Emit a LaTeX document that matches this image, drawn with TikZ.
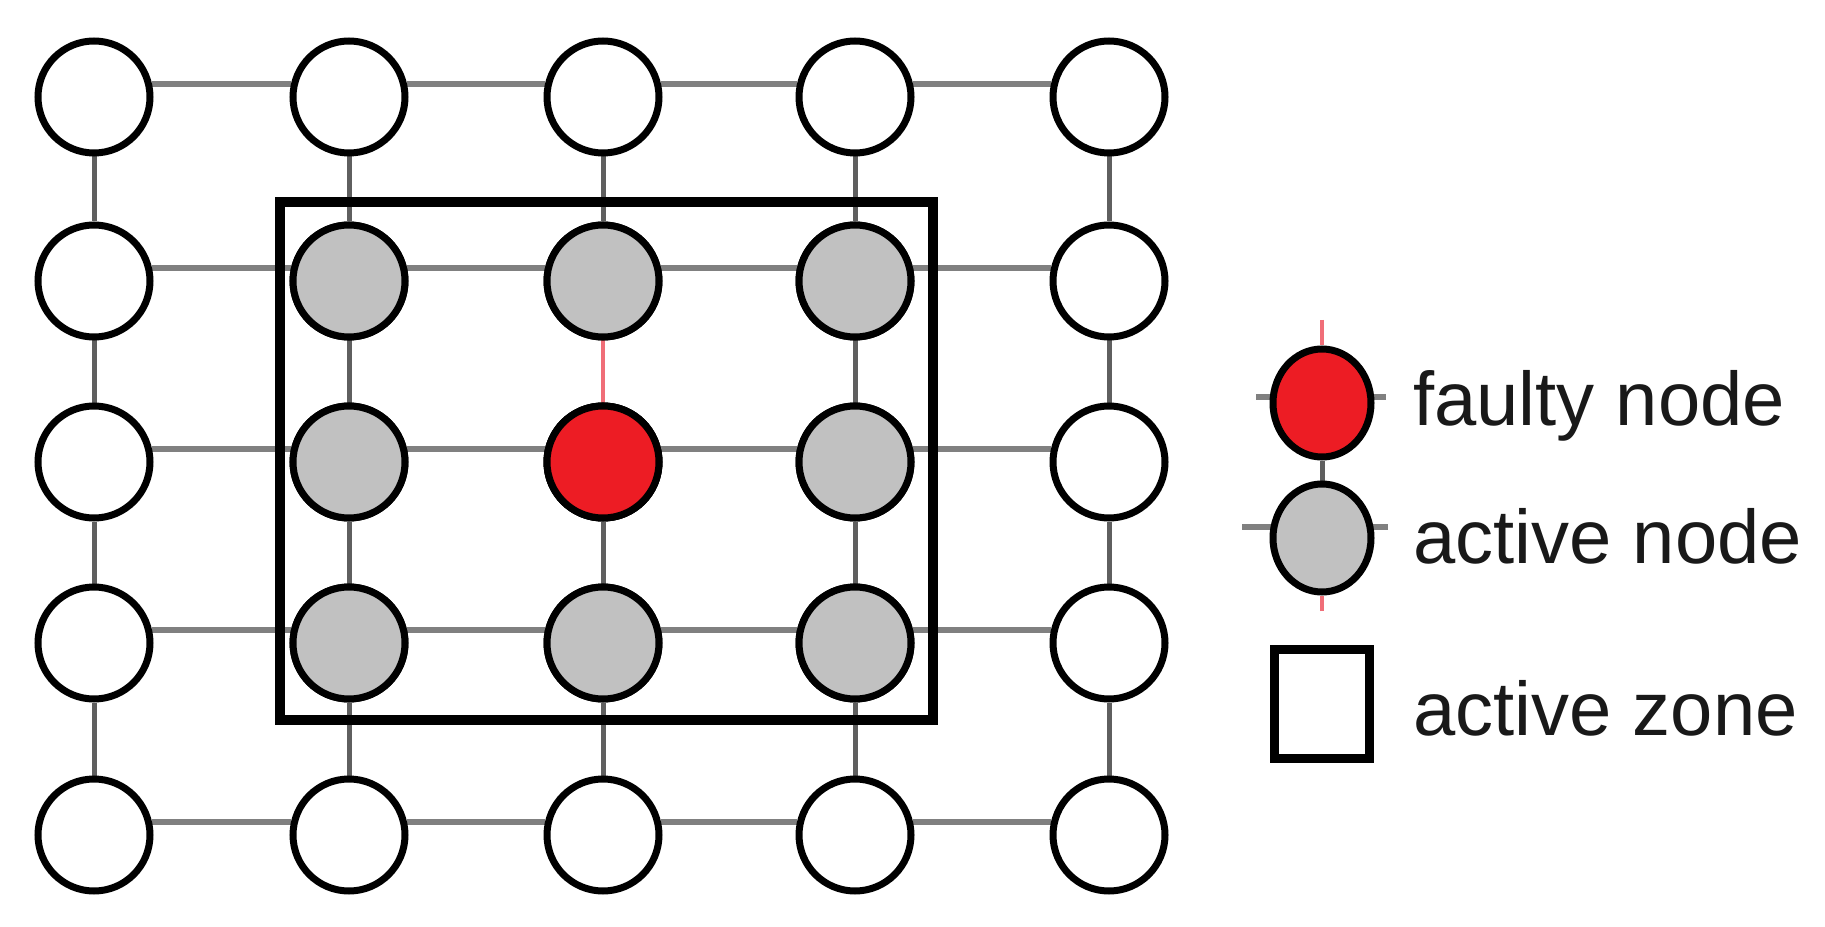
\documentclass[tikz,border=0pt]{standalone}
\usepackage{fontspec}
\setmainfont{Liberation Sans}
\usetikzlibrary{shapes.geometric,backgrounds}
\definecolor{edgegray}{RGB}{128,128,128}
\definecolor{vgray}{RGB}{95,95,95}
\definecolor{activegray}{RGB}{193,193,193}
\definecolor{faultred}{RGB}{237,28,36}
\definecolor{linkred}{RGB}{240,110,120}
\begin{document}
\begin{tikzpicture}[x=0.75pt,y=-0.75pt,
  gridnode/.style={circle,draw=black,line width=5.25pt,minimum size=84pt,inner sep=0pt,fill=white},
  activenode/.style={gridnode,fill=activegray},
  faultnode/.style={gridnode,fill=faultred},
  legnode/.style={ellipse,draw=black,line width=5.25pt,minimum width=73.5pt,minimum height=81pt,inner sep=0pt},
  hedge/.style={draw=edgegray,line width=4.5pt},
  vedge/.style={draw=vgray,line width=3.75pt},
  redge/.style={draw=linkred,line width=2.6pt},
  zone/.style={draw=black,line width=7.5pt},
  legtext/.style={anchor=base west,inner sep=0pt,font=\fontsize{57}{63}\selectfont,text=black!90}]
\useasboundingbox (0,0) rectangle (1825,927);
% grid nodes
\foreach \c/\x in {1/94,2/349,3/603,4/855,5/1109}{
  \foreach \r/\y in {1/97,2/281,3/462,4/643,5/835}{
    \node[gridnode] (n\c\r) at (\x,\y) {};
  }
}
\foreach \c in {2,3,4}{
  \foreach \r in {2,3,4}{
    \node[activenode] (n\c\r) at (n\c\r) {};
  }
}
\node[faultnode] (n33) at (n33) {};
% connectors
\begin{pgfonlayer}{background}
\fill[white] (0,0) rectangle (1825,927);
\foreach \r in {1,...,5}{
  \foreach \c in {1,...,4}{
    \pgfmathtruncatemacro\d{\c+1}
    \draw[hedge] (n\c\r.13) -- (n\d\r.167);
  }
}
\foreach \c in {1,...,5}{
  \foreach \r in {1,...,4}{
    \pgfmathtruncatemacro\s{\r+1}
    \ifnum\c\r=32
      \draw[redge] (n\c\r) -- (n\c\s);
    \else
      \draw[vedge] (n\c\r) -- (n\c\s);
    \fi
  }
}
\end{pgfonlayer}
% active zone
\draw[zone] (280,202) rectangle (933,720);
% legend
\node[legnode,fill=faultred] (lf) at (1322,403) {};
\node[legnode,fill=activegray] (la) at (1322,538) {};
\coordinate (lftop) at (1322,320);
\coordinate (lfl) at (1256,397);
\coordinate (lfr) at (1386,397);
\coordinate (lal) at (1242,527);
\coordinate (lar) at (1388,527);
\coordinate (labot) at (1322,611);
\begin{pgfonlayer}{background}
\draw[vedge] (lf) -- (la);
\draw[redge] (lftop) -- (lf.north);
\draw[hedge] (lfl) -- (lfl -| lf.center);
\draw[hedge] (lfr) -- (lfr -| lf.center);
\draw[hedge] (lal) -- (lal -| la.center);
\draw[hedge] (lar) -- (lar -| la.center);
\draw[redge] (labot) -- (la.south);
\end{pgfonlayer}
\draw[zone,line width=6.75pt] (1274,649) rectangle (1369,758);
\node[legtext] (t1) at (1413,425) {faulty node};
\node[legtext] (t2) at (1413,563) {active node};
\node[legtext] (t3) at (1413,735) {active zone};
\end{tikzpicture}
\end{document}
